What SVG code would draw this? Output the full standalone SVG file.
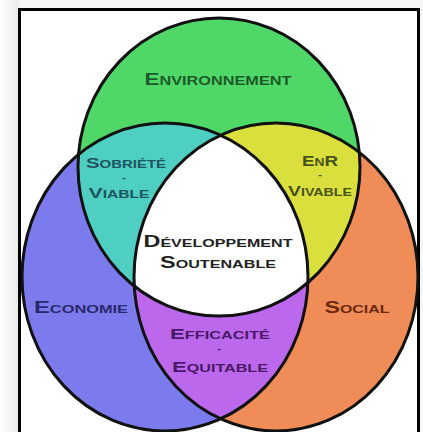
<svg xmlns="http://www.w3.org/2000/svg" xmlns:xlink="http://www.w3.org/1999/xlink" width="423" height="432" viewBox="0 0 423 432">
<style>
  .lbl { font-family: "Liberation Sans", Arial, sans-serif; font-weight: bold; font-variant: small-caps; text-anchor: middle; }
  .ring { fill: none; stroke: #111; stroke-width: 3; }
</style>
<defs>
  <ellipse id="eG" cx="219" cy="167" rx="141" ry="149"/>
  <ellipse id="eB" cx="165" cy="277" rx="143" ry="154"/>
  <ellipse id="eO" cx="276" cy="277" rx="142" ry="154"/>
  <clipPath id="cG"><use xlink:href="#eG"/></clipPath>
  <clipPath id="cO"><use xlink:href="#eO"/></clipPath>
  <linearGradient id="shade" x1="0" y1="0" x2="1" y2="0">
    <stop offset="0" stop-color="#ffffff"/>
    <stop offset="1" stop-color="#e9e9e9"/>
  </linearGradient>
</defs>
<rect x="0" y="0" width="423" height="432" fill="#f6f6f6"/>
<rect x="0" y="0" width="19" height="432" fill="url(#shade)"/>
<rect x="19.5" y="9.5" width="399" height="440" fill="#ffffff" stroke="#000" stroke-width="3"/>

<g id="economie">
  <use xlink:href="#eB" fill="#7b7bee"/>
</g>
<g id="social">
  <use xlink:href="#eO" fill="#ef8c57"/>
</g>
<g id="environnement">
  <use xlink:href="#eG" fill="#4fd868"/>
</g>
<g id="sobriete-viable">
  <use xlink:href="#eB" fill="#4fcfc2" clip-path="url(#cG)"/>
</g>
<g id="enr-vivable">
  <use xlink:href="#eO" fill="#d9e03e" clip-path="url(#cG)"/>
</g>
<g id="efficacite-equitable">
  <use xlink:href="#eB" fill="#bc68ec" clip-path="url(#cO)"/>
</g>
<g id="developpement-soutenable">
  <g clip-path="url(#cG)"><use xlink:href="#eB" fill="#ffffff" clip-path="url(#cO)"/></g>
</g>

<g id="outlines">
  <use xlink:href="#eG" class="ring"/>
  <use xlink:href="#eB" class="ring"/>
  <use xlink:href="#eO" class="ring"/>
</g>

<g id="labels">
  <text class="lbl" x="218" y="85" font-size="16.5" fill="#1b5a28" textLength="147" lengthAdjust="spacingAndGlyphs">Environnement</text>

  <text class="lbl" x="126" y="168" font-size="15" fill="#1d5560" textLength="80" lengthAdjust="spacingAndGlyphs">Sobriété</text>
  <text class="lbl" x="124" y="181" font-size="11" fill="#1d5560">-</text>
  <text class="lbl" x="119" y="198" font-size="15" fill="#1d5560" textLength="61" lengthAdjust="spacingAndGlyphs">Viable</text>

  <text class="lbl" x="320" y="166" font-size="15" fill="#4a5216" textLength="36" lengthAdjust="spacingAndGlyphs">EnR</text>
  <text class="lbl" x="320" y="178" font-size="11" fill="#4a5216">-</text>
  <text class="lbl" x="320" y="196" font-size="15" fill="#4a5216" textLength="64" lengthAdjust="spacingAndGlyphs">Vivable</text>

  <text class="lbl" x="218" y="247" font-size="16" fill="#222" textLength="149" lengthAdjust="spacingAndGlyphs">Développement</text>
  <text class="lbl" x="218" y="268" font-size="16" fill="#222" textLength="116" lengthAdjust="spacingAndGlyphs">Soutenable</text>

  <text class="lbl" x="81" y="313" font-size="16" fill="#28286a" textLength="94" lengthAdjust="spacingAndGlyphs">Economie</text>
  <text class="lbl" x="357" y="313" font-size="16" fill="#6a2810" textLength="65" lengthAdjust="spacingAndGlyphs">Social</text>

  <text class="lbl" x="220" y="339" font-size="15" fill="#4a1868" textLength="100" lengthAdjust="spacingAndGlyphs">Efficacité</text>
  <text class="lbl" x="219" y="352" font-size="11" fill="#4a1868">-</text>
  <text class="lbl" x="220" y="372" font-size="15" fill="#4a1868" textLength="96" lengthAdjust="spacingAndGlyphs">Equitable</text>
</g>
</svg>
